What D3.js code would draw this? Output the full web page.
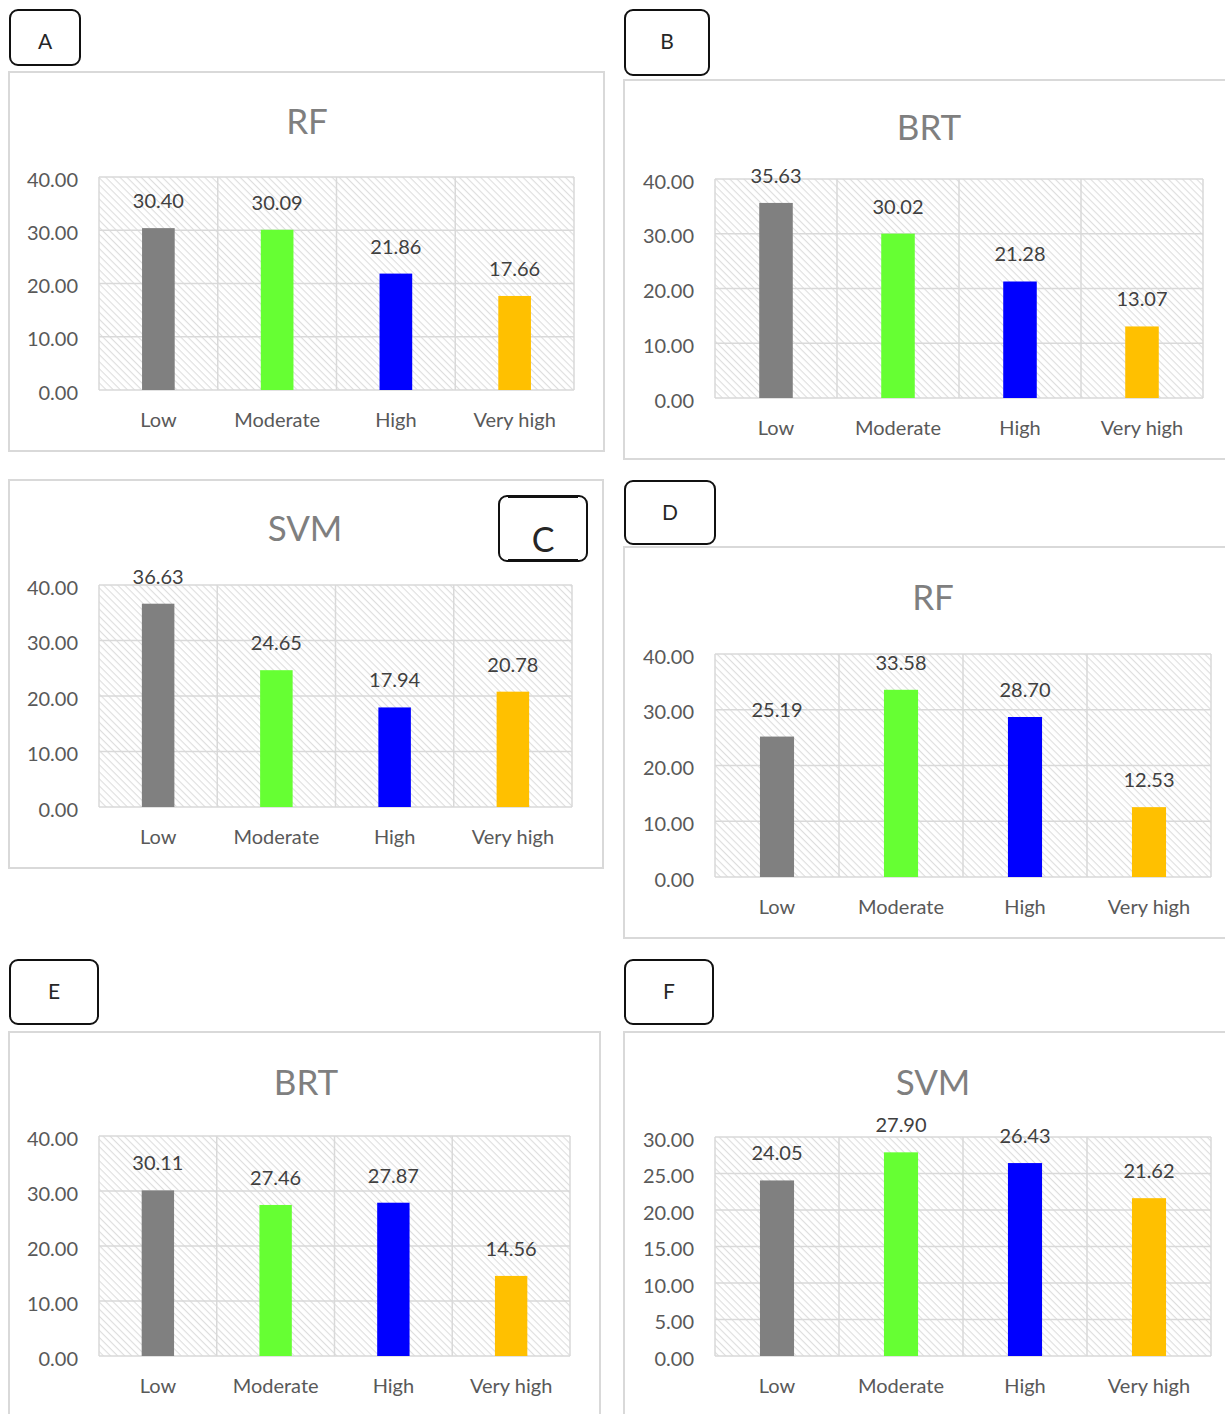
<!DOCTYPE html>
<html>
<head>
<meta charset="utf-8">
<script src="https://cdn.jsdelivr.net/npm/d3@7/dist/d3.min.js"></script>
<style>
  html, body { margin: 0; padding: 0; background: #fff; }
  svg { display: block; font-family: Lato, "Open Sans", sans-serif; }
</style>
</head>
<body>
<svg id="chart" width="1225" height="1414"></svg>
<script>
// Susceptibility class shares (%) per model
const categories = ["Low", "Moderate", "High", "Very high"];
const barColors = ["#808080", "#66ff33", "#0000ff", "#ffc000"];

const valuesA = [30.40, 30.09, 21.86, 17.66];
const valuesB = [35.63, 30.02, 21.28, 13.07];
const valuesC = [36.63, 24.65, 17.94, 20.78];
const valuesD = [25.19, 33.58, 28.70, 12.53];
const valuesE = [30.11, 27.46, 27.87, 14.56];
const valuesF = [24.05, 27.90, 26.43, 21.62];

const ticks40 = [0, 10, 20, 30, 40];
const ticks30 = [0, 5, 10, 15, 20, 25, 30];

const titles = ["RF", "BRT", "SVM", "RF", "BRT", "SVM"];
const letters = ["A", "B", "C", "D", "E", "F"];

// Layout for each panel: outer frame, letter box, title anchor, plot area
const panels = [
  { values: valuesA, ticks: ticks40, frame: [9, 72, 604, 451], box: [9, 9, 81, 66], title: [307, 120], plot: [99, 177, 574, 390] },
  { values: valuesB, ticks: ticks40, frame: [624, 80, 1232, 459], box: [624, 9, 710, 76], title: [929, 126], plot: [715, 179, 1203, 398] },
  { values: valuesC, ticks: ticks40, frame: [9, 480, 603, 868], box: [498, 495, 588, 562], title: [305, 527], plot: [99, 585, 572, 807], bigLetter: true },
  { values: valuesD, ticks: ticks40, frame: [624, 547, 1232, 938], box: [624, 480, 716, 545], title: [933, 596], plot: [715, 654, 1211, 877] },
  { values: valuesE, ticks: ticks40, frame: [9, 1032, 600, 1424], box: [9, 959, 99, 1025], title: [306, 1081], plot: [99, 1136, 570, 1356] },
  { values: valuesF, ticks: ticks30, frame: [624, 1032, 1232, 1424], box: [624, 959, 714, 1025], title: [933, 1081], plot: [715, 1137, 1211, 1356] }
];

const svg = d3.select("#chart");

// Light diagonal hatch used for the plot-area background
const defs = svg.append("defs");
const pat = defs.append("pattern")
  .attr("id", "hatch")
  .attr("patternUnits", "userSpaceOnUse")
  .attr("width", 5).attr("height", 5)
  .attr("patternTransform", "rotate(45)");
pat.append("rect").attr("width", 5).attr("height", 5).attr("fill", "#ffffff");
pat.append("line").attr("x1", 0).attr("y1", 0).attr("x2", 5).attr("y2", 0)
  .attr("stroke", "#dedede").attr("stroke-width", 2.2);

panels.forEach((p, i) => {
  const g = svg.append("g");
  const [fx0, fy0, fx1, fy1] = p.frame;
  const [px0, py0, px1, py1] = p.plot;

  // Outer chart frame
  g.append("rect")
    .attr("x", fx0).attr("y", fy0)
    .attr("width", fx1 - fx0).attr("height", fy1 - fy0)
    .attr("fill", "#fff").attr("stroke", "#d9d9d9").attr("stroke-width", 2);

  // Title
  g.append("text")
    .attr("x", p.title[0]).attr("y", p.title[1])
    .attr("text-anchor", "middle").attr("dominant-baseline", "central")
    .attr("font-size", 35).attr("fill", "#7f7f7f")
    .text(titles[i]);

  const yMax = d3.max(p.ticks);
  const x = d3.scaleBand().domain(categories).range([px0, px1]).paddingInner(0).paddingOuter(0);
  const y = d3.scaleLinear().domain([0, yMax]).range([py1, py0]);

  // Hatched plot background
  g.append("rect")
    .attr("x", px0).attr("y", py0)
    .attr("width", px1 - px0).attr("height", py1 - py0)
    .attr("fill", "url(#hatch)");

  // Horizontal gridlines
  g.append("g")
    .selectAll("line")
    .data(p.ticks)
    .join("line")
    .attr("x1", px0).attr("x2", px1)
    .attr("y1", d => y(d)).attr("y2", d => y(d))
    .attr("stroke", "#d9d9d9").attr("stroke-width", 1.5);

  // Vertical category separators
  const seps = categories.map(c => x(c)).concat([px1]);
  g.append("g")
    .selectAll("line")
    .data(seps)
    .join("line")
    .attr("x1", d => d).attr("x2", d => d)
    .attr("y1", py0).attr("y2", py1)
    .attr("stroke", "#d9d9d9").attr("stroke-width", 1.5);

  // Y axis labels
  const yAxis = d3.axisLeft(y)
    .tickValues(p.ticks)
    .tickFormat(d3.format(".2f"))
    .tickSize(0)
    .tickPadding(21);
  const ya = g.append("g").attr("transform", `translate(${px0},0)`).call(yAxis);
  ya.select(".domain").remove();
  ya.selectAll("text")
    .attr("font-family", "Lato, 'Open Sans', sans-serif")
    .attr("font-size", 20).attr("fill", "#595959")
    .attr("dy", "0.45em");

  // X axis labels
  const xAxis = d3.axisBottom(x).tickSize(0).tickPadding(23);
  const xa = g.append("g").attr("transform", `translate(0,${py1})`).call(xAxis);
  xa.select(".domain").remove();
  xa.selectAll("text")
    .attr("font-family", "Lato, 'Open Sans', sans-serif")
    .attr("font-size", 20).attr("fill", "#595959");

  // Bars
  const bw = x.bandwidth() * 0.275;
  const rows = categories.map((c, k) => ({ c, v: p.values[k], color: barColors[k] }));
  g.append("g")
    .selectAll("rect")
    .data(rows)
    .join("rect")
    .attr("x", d => x(d.c) + x.bandwidth() / 2 - bw / 2)
    .attr("width", bw)
    .attr("y", d => y(d.v))
    .attr("height", d => y(0) - y(d.v))
    .attr("fill", d => d.color);

  // Value labels
  g.append("g")
    .selectAll("text")
    .data(rows)
    .join("text")
    .attr("x", d => x(d.c) + x.bandwidth() / 2)
    .attr("y", d => y(d.v) - 20)
    .attr("text-anchor", "middle")
    .attr("font-size", 20).attr("fill", "#404040")
    .text(d => d3.format(".2f")(d.v));

  // Panel letter box
  const [bx0, by0, bx1, by1] = p.box;
  g.append("rect")
    .attr("x", bx0 + 1).attr("y", by0 + 1)
    .attr("width", bx1 - bx0 - 2).attr("height", by1 - by0 - 2)
    .attr("rx", 8).attr("ry", 8)
    .attr("fill", "#fff").attr("stroke", "#111").attr("stroke-width", 2);
  if (p.bigLetter) {
    g.append("line").attr("x1", bx0 + 10).attr("x2", bx1 - 10)
      .attr("y1", by0 + 1.5).attr("y2", by0 + 1.5)
      .attr("stroke", "#111").attr("stroke-width", 3);
    g.append("line").attr("x1", bx0 + 10).attr("x2", bx1 - 10)
      .attr("y1", by1 - 1.5).attr("y2", by1 - 1.5)
      .attr("stroke", "#111").attr("stroke-width", 3);
  }
  g.append("text")
    .attr("x", (bx0 + bx1) / 2)
    .attr("y", by0 + (p.bigLetter ? 57 : 40))
    .attr("text-anchor", "middle")
    .attr("font-size", p.bigLetter ? 34 : 21)
    .attr("fill", "#262626")
    .text(letters[i]);
});
</script>
</body>
</html>
